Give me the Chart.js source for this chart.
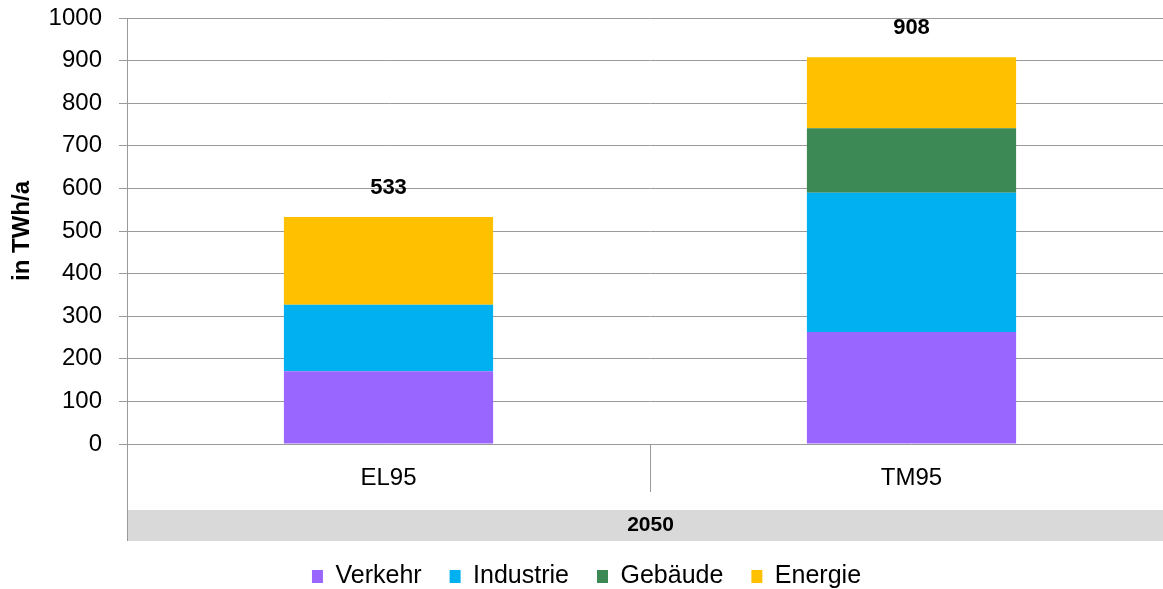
<!DOCTYPE html>
<html>
<head>
<meta charset="utf-8">
<script src="https://cdn.jsdelivr.net/npm/chart.js@4"></script>
<style>
  body { margin: 0; overflow: hidden; background: #fff; }
  #wrap { width: 1180px; height: 589px; }
</style>
</head>
<body>
<div id="wrap"><canvas id="barChart"></canvas></div>
<script>
var categories = ['EL95', 'TM95'];
var groupLabel = '2050';
var verkehr = [171, 263];
var industrie = [156, 327];
var gebaeude = [0, 151];
var energie = [206, 167];
var totals = [533, 908];

var FONT = "'Liberation Sans', Arial, sans-serif";
var GRID = '#9a9a9a';

// totals above the stacks
var totalLabels = {
    id: 'totalLabels',
    afterDatasetsDraw: function (chart) {
        var ctx = chart.ctx;
        var meta = chart.getDatasetMeta(chart.data.datasets.length - 1);
        ctx.save();
        ctx.font = 'bold 22px ' + FONT;
        ctx.fillStyle = '#000';
        ctx.textAlign = 'center';
        ctx.textBaseline = 'middle';
        meta.data.forEach(function (bar, i) {
            ctx.fillText(totals[i], bar.x, bar.y - 29);
        });
        ctx.restore();
    }
};

// category separators, group band and extended axis line under the plot
var groupAxis = {
    id: 'groupAxis',
    afterDraw: function (chart) {
        var ctx = chart.ctx;
        var area = chart.chartArea;
        var x = chart.scales.x;
        var bandTop = area.bottom + 66;
        var bandBottom = area.bottom + 97;
        ctx.save();
        ctx.fillStyle = '#d9d9d9';
        ctx.fillRect(area.left, bandTop, chart.width - area.left, bandBottom - bandTop);
        ctx.strokeStyle = GRID;
        ctx.lineWidth = 1;
        ctx.beginPath();
        ctx.moveTo(area.left + 0.5, area.bottom);
        ctx.lineTo(area.left + 0.5, bandBottom);
        var mid = Math.round((x.getPixelForValue(0) + x.getPixelForValue(1)) / 2) + 0.5;
        ctx.moveTo(mid, area.bottom);
        ctx.lineTo(mid, area.bottom + 48);
        ctx.stroke();
        ctx.font = 'bold 21px ' + FONT;
        ctx.fillStyle = '#000';
        ctx.textAlign = 'center';
        ctx.textBaseline = 'middle';
        ctx.fillText(groupLabel, mid, (bandTop + bandBottom) / 2);
        ctx.restore();
    }
};

var ctx = document.getElementById('barChart').getContext('2d');
var myChart = new Chart(ctx, {
    type: 'bar',
    data: {
        labels: categories,
        datasets: [
            { label: 'Verkehr', data: verkehr, backgroundColor: '#9966ff' },
            { label: 'Industrie', data: industrie, backgroundColor: '#00b0f0' },
            { label: 'Gebäude', data: gebaeude, backgroundColor: '#3d8955' },
            { label: 'Energie', data: energie, backgroundColor: '#ffc000' }
        ]
    },
    options: {
        responsive: true,
        maintainAspectRatio: false,
        animation: false,
        layout: { padding: { top: 18, right: 7, bottom: -10, left: 0 } },
        datasets: { bar: { barPercentage: 0.8, categoryPercentage: 0.5 } },
        plugins: {
            legend: {
                position: 'bottom',
                labels: {
                    boxWidth: 11, boxHeight: 13, padding: 28,
                    color: '#000',
                    font: { family: FONT, size: 25 }
                }
            },
            tooltip: { enabled: false }
        },
        scales: {
            x: {
                stacked: true,
                grid: { display: false },
                border: { display: false },
                ticks: { color: '#000', padding: 12, font: { family: FONT, size: 24 } },
                afterFit: function (s) { s.height = 92; }
            },
            y: {
                stacked: true,
                min: 0, max: 1000,
                grid: { color: GRID, tickLength: 8 },
                border: { color: GRID },
                ticks: {
                    stepSize: 100, color: '#000', padding: 17,
                    font: { family: FONT, size: 24 },
                    callback: function (v) { return String(v); }
                },
                title: {
                    display: true, text: 'in TWh/a', color: '#000',
                    padding: { top: 8, bottom: 0 },
                    font: { family: FONT, size: 24, weight: 'bold' }
                },
                afterFit: function (s) { s.width = 127; s.paddingTop = 0; s.paddingBottom = 0; }
            }
        }
    },
    plugins: [totalLabels, groupAxis]
});
</script>
</body>
</html>
